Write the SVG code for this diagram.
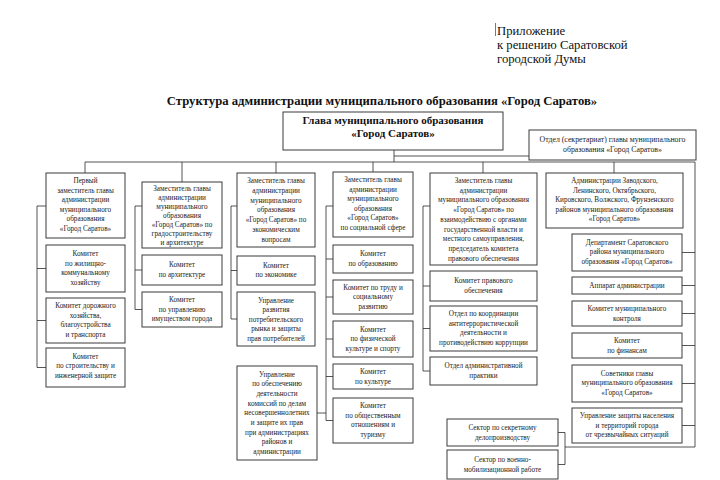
<svg xmlns="http://www.w3.org/2000/svg" width="720" height="480" viewBox="0 0 720 480">
<style>
.b{fill:#fff;stroke:#3a3a3a;stroke-width:1}
.t{font-family:"Liberation Serif","Times New Roman",serif;font-size:7.2px;fill:#222;text-anchor:middle}
.c{fill:none;stroke:#2a2a2a;stroke-width:0.8}
.h{font-family:"Liberation Serif","Times New Roman",serif;font-size:12.7px;fill:#111}
.ti{font-family:"Liberation Serif","Times New Roman",serif;font-size:12.7px;font-weight:bold;fill:#111;text-anchor:middle}
.g{font-family:"Liberation Serif","Times New Roman",serif;font-size:11px;font-weight:bold;fill:#111;text-anchor:middle}
</style>
<rect width="720" height="480" fill="#fff"/>
<g id="appendix">
<line x1="495.5" y1="23" x2="495.5" y2="36" stroke="#555" stroke-width="0.8"/>
<text class="h" x="497" y="35">Приложение</text>
<text class="h" x="497" y="49">к решению Саратовской</text>
<text class="h" x="497" y="63">городской Думы</text>
</g>
<text class="ti" x="382" y="105">Структура администрации муниципального образования «Город Саратов»</text>
<g id="connectors" class="c">
<path d="M394 150V162M394 156H529M85 162H695V447H565M565 432.5H558M565 432.5V464.5H558"/>
<path d="M85 162V173M182 162V182M276 162V173M373 162V172M483 162V173M614 162V173"/>
<path d="M46 206H37V367.5H46M37 268.5H46M37 320.5H46"/>
<path d="M142 206H135V309.5H142M135 270H142"/>
<path d="M237 206H231V319H237M231 270.5H237"/>
<path d="M333 206H326V420.5H333M326 259H333M326 297H333M326 339H333M326 376.5H333M317 413H326"/>
<path d="M430 206H423V371H430M423 286H430M423 328.5H430"/>
<path d="M682 252.5H695M682 285.5H695M682 313.5H695M682 345.5H695M682 383.5H695M682 425.5H695"/>
</g>
<g id="glava"><rect class="b" x="283" y="112" width="220" height="38"/>
<text class="g" x="393" y="124">Глава муниципального образования</text>
<text class="g" x="393" y="137">«Город Саратов»</text></g>
<g id="secretariat"><rect class="b" x="529" y="130" width="167" height="30"/>
<text class="t" x="612.5" y="141.5" style="font-size:7.8px">Отдел (секретариат) главы муниципального</text>
<text class="t" x="612.5" y="151.5" style="font-size:7.8px">образования «Город Саратов»</text></g>

<g id="a1"><rect class="b" x="46" y="173" width="79" height="65"/>
<text class="t" x="85.5" y="183">Первый</text><text class="t" x="85.5" y="192.5">заместитель главы</text><text class="t" x="85.5" y="202">администрации</text><text class="t" x="85.5" y="211.5">муниципального</text><text class="t" x="85.5" y="221">образования</text><text class="t" x="85.5" y="230.5">«Город Саратов»</text></g>
<g id="a2"><rect class="b" x="46" y="245" width="79" height="47"/>
<text class="t" x="85.5" y="256">Комитет</text><text class="t" x="85.5" y="265.5">по жилищно-</text><text class="t" x="85.5" y="275">коммунальному</text><text class="t" x="85.5" y="284.5">хозяйству</text></g>
<g id="a3"><rect class="b" x="46" y="298" width="79" height="45"/>
<text class="t" x="85.5" y="308">Комитет дорожного</text><text class="t" x="85.5" y="317.5">хозяйства,</text><text class="t" x="85.5" y="327">благоустройства</text><text class="t" x="85.5" y="336.5">и транспорта</text></g>
<g id="a4"><rect class="b" x="46" y="348" width="79" height="39"/>
<text class="t" x="85.5" y="358.5">Комитет</text><text class="t" x="85.5" y="368">по строительству и</text><text class="t" x="85.5" y="377.5">инженерной защите</text></g>

<g id="b1"><rect class="b" x="142" y="182" width="80" height="66"/>
<text class="t" x="182" y="190.5">Заместитель главы</text><text class="t" x="182" y="199.5">администрации</text><text class="t" x="182" y="208.5">муниципального</text><text class="t" x="182" y="217.5">образования</text><text class="t" x="182" y="226.5">«Город Саратов» по</text><text class="t" x="182" y="235.5">градостроительству</text><text class="t" x="182" y="244.5">и архитектуре</text></g>
<g id="b2"><rect class="b" x="142" y="255" width="80" height="30"/>
<text class="t" x="182" y="267">Комитет</text><text class="t" x="182" y="276.5">по архитектуре</text></g>
<g id="b3"><rect class="b" x="142" y="292" width="80" height="35"/>
<text class="t" x="182" y="302">Комитет</text><text class="t" x="182" y="311.5">по управлению</text><text class="t" x="182" y="321">имуществом города</text></g>

<g id="c1"><rect class="b" x="237" y="173" width="78" height="74"/>
<text class="t" x="276" y="183">Заместитель главы</text><text class="t" x="276" y="192.8">администрации</text><text class="t" x="276" y="202.6">муниципального</text><text class="t" x="276" y="212.4">образования</text><text class="t" x="276" y="222.2">«Город Саратов» по</text><text class="t" x="276" y="232">экономическим</text><text class="t" x="276" y="241.8">вопросам</text></g>
<g id="c2"><rect class="b" x="237" y="256" width="78" height="29"/>
<text class="t" x="276" y="267.5">Комитет</text><text class="t" x="276" y="277">по экономике</text></g>
<g id="c3"><rect class="b" x="237" y="292" width="78" height="54"/>
<text class="t" x="276" y="302.5">Управление</text><text class="t" x="276" y="312">развития</text><text class="t" x="276" y="321.5">потребительского</text><text class="t" x="276" y="331">рынка и защиты</text><text class="t" x="276" y="340.5">прав потребителей</text></g>
<g id="c4"><rect class="b" x="237" y="366" width="80" height="94"/>
<text class="t" x="277" y="376.5">Управление</text><text class="t" x="277" y="386.2">по обеспечению</text><text class="t" x="277" y="395.9">деятельности</text><text class="t" x="277" y="405.6">комиссий по делам</text><text class="t" x="277" y="415.3">несовершеннолетних</text><text class="t" x="277" y="425">и защите их прав</text><text class="t" x="277" y="434.7">при администрациях</text><text class="t" x="277" y="444.4">районов и</text><text class="t" x="277" y="454.1">администрации</text></g>

<g id="d1"><rect class="b" x="333" y="172" width="80" height="65"/>
<text class="t" x="373" y="182">Заместитель главы</text><text class="t" x="373" y="191.6">администрации</text><text class="t" x="373" y="201.2">муниципального</text><text class="t" x="373" y="210.8">образования</text><text class="t" x="373" y="220.4">«Город Саратов»</text><text class="t" x="373" y="230">по социальной сфере</text></g>
<g id="d2"><rect class="b" x="333" y="245" width="80" height="28"/>
<text class="t" x="373" y="256">Комитет</text><text class="t" x="373" y="265.5">по образованию</text></g>
<g id="d3"><rect class="b" x="333" y="280" width="80" height="34"/>
<text class="t" x="373" y="289.5">Комитет по труду и</text><text class="t" x="373" y="299">социальному</text><text class="t" x="373" y="308.5">развитию</text></g>
<g id="d4"><rect class="b" x="333" y="321" width="80" height="36"/>
<text class="t" x="373" y="331.5">Комитет</text><text class="t" x="373" y="341">по физической</text><text class="t" x="373" y="350.5">культуре и спорту</text></g>
<g id="d5"><rect class="b" x="333" y="364" width="80" height="25"/>
<text class="t" x="373" y="374">Комитет</text><text class="t" x="373" y="383.5">по культуре</text></g>
<g id="d6"><rect class="b" x="333" y="398" width="80" height="45"/>
<text class="t" x="373" y="408">Комитет</text><text class="t" x="373" y="417.5">по общественным</text><text class="t" x="373" y="427">отношениям и</text><text class="t" x="373" y="436.5">туризму</text></g>

<g id="e1"><rect class="b" x="430" y="173" width="107" height="92"/>
<text class="t" x="483.5" y="183">Заместитель главы</text><text class="t" x="483.5" y="192.7">администрации</text><text class="t" x="483.5" y="202.4">муниципального образования</text><text class="t" x="483.5" y="212.1">«Город Саратов» по</text><text class="t" x="483.5" y="221.8">взаимодействию с органами</text><text class="t" x="483.5" y="231.5">государственной власти и</text><text class="t" x="483.5" y="241.2">местного самоуправления,</text><text class="t" x="483.5" y="250.9">председатель комитета</text><text class="t" x="483.5" y="260.6">правового обеспечения</text></g>
<g id="e2"><rect class="b" x="430" y="271" width="107" height="30"/>
<text class="t" x="483.5" y="283">Комитет правового</text><text class="t" x="483.5" y="292.5">обеспечения</text></g>
<g id="e3"><rect class="b" x="430" y="306" width="107" height="45"/>
<text class="t" x="483.5" y="316">Отдел по координации</text><text class="t" x="483.5" y="325.5">антитеррористической</text><text class="t" x="483.5" y="335">деятельности и</text><text class="t" x="483.5" y="344.5">противодействию коррупции</text></g>
<g id="e4"><rect class="b" x="430" y="357" width="107" height="28"/>
<text class="t" x="483.5" y="368">Отдел административной</text><text class="t" x="483.5" y="377.5">практики</text></g>

<g id="f1"><rect class="b" x="546" y="173" width="137" height="55"/>
<text class="t" x="614.5" y="183">Администрации Заводского,</text><text class="t" x="614.5" y="192.6">Ленинского, Октябрьского,</text><text class="t" x="614.5" y="202.2">Кировского, Волжского, Фрунзенского</text><text class="t" x="614.5" y="211.8">районов муниципального образования</text><text class="t" x="614.5" y="221.4">«Город Саратов»</text></g>
<g id="g1"><rect class="b" x="572" y="234" width="110" height="37"/>
<text class="t" x="627" y="244.5">Департамент Саратовского</text><text class="t" x="627" y="254">района муниципального</text><text class="t" x="627" y="263.5">образования «Город Саратов»</text></g>
<g id="g2"><rect class="b" x="572" y="277" width="110" height="17"/>
<text class="t" x="627" y="288">Аппарат администрации</text></g>
<g id="g3"><rect class="b" x="572" y="301" width="110" height="25"/>
<text class="t" x="627" y="311">Комитет муниципального</text><text class="t" x="627" y="320.5">контроля</text></g>
<g id="g4"><rect class="b" x="572" y="333" width="110" height="25"/>
<text class="t" x="627" y="343">Комитет</text><text class="t" x="627" y="352.5">по финансам</text></g>
<g id="g5"><rect class="b" x="572" y="365" width="110" height="37"/>
<text class="t" x="627" y="375.5">Советники главы</text><text class="t" x="627" y="385">муниципального образования</text><text class="t" x="627" y="394.5">«Город Саратов»</text></g>
<g id="g6"><rect class="b" x="572" y="408" width="110" height="35"/>
<text class="t" x="627" y="418">Управление защиты населения</text><text class="t" x="627" y="427.5">и территорий города</text><text class="t" x="627" y="437">от чрезвычайных ситуаций</text></g>

<g id="s1"><rect class="b" x="447" y="419" width="111" height="27"/>
<text class="t" x="502.5" y="430">Сектор по секретному</text><text class="t" x="502.5" y="439.5">делопроизводству</text></g>
<g id="s2"><rect class="b" x="447" y="450" width="111" height="29"/>
<text class="t" x="502.5" y="462">Сектор по военно-</text><text class="t" x="502.5" y="471.5">мобилизационной работе</text></g>
</svg>
